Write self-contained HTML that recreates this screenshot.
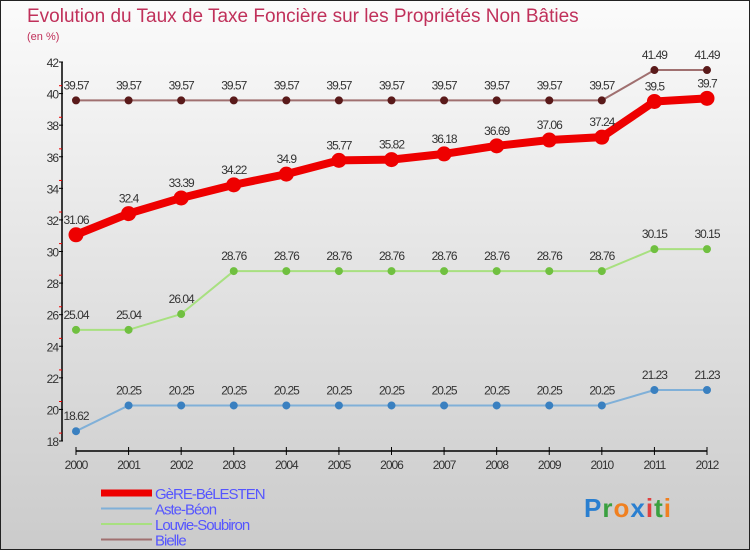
<!DOCTYPE html>
<html><head><meta charset="utf-8"><style>
body{margin:0}
#c{width:750px;height:550px;position:relative;box-sizing:border-box;border:1px solid #222;background:linear-gradient(#fbfbfb,#cbcbcb);font-family:"Liberation Sans",sans-serif;overflow:hidden}
svg{position:absolute;left:0;top:0}
</style></head><body>
<div id="c">
<svg id="s" width="750" height="550">
<text x="26" y="21" font-size="19" fill="#c0305a">Evolution du Taux de Taxe Foncière sur les Propriétés Non Bâties</text>
<text x="26" y="39" font-size="11" fill="#c0305a">(en %)</text>
</svg>
</div>
<script>
const years=[2000,2001,2002,2003,2004,2005,2006,2007,2008,2009,2010,2011,2012];
const yTicks=[18,20,22,24,26,28,30,32,34,36,38,40,42];
const gere=[31.06,32.4,33.39,34.22,34.9,35.77,35.82,36.18,36.69,37.06,37.24,39.5,39.7];
const aste=[18.62,20.25,20.25,20.25,20.25,20.25,20.25,20.25,20.25,20.25,20.25,21.23,21.23];
const louvie=[25.04,25.04,26.04,28.76,28.76,28.76,28.76,28.76,28.76,28.76,28.76,30.15,30.15];
const bielle=[39.57,39.57,39.57,39.57,39.57,39.57,39.57,39.57,39.57,39.57,39.57,41.49,41.49];
const gereLabels=["31.06","32.4","33.39","34.22","34.9","35.77","35.82","36.18","36.69","37.06","37.24","39.5","39.7"];
const asteLabels=["18.62","20.25","20.25","20.25","20.25","20.25","20.25","20.25","20.25","20.25","20.25","21.23","21.23"];
const louvieLabels=["25.04","25.04","26.04","28.76","28.76","28.76","28.76","28.76","28.76","28.76","28.76","30.15","30.15"];
const bielleLabels=["39.57","39.57","39.57","39.57","39.57","39.57","39.57","39.57","39.57","39.57","39.57","41.49","41.49"];
const s=document.getElementById('s');const NS='http://www.w3.org/2000/svg';
function X(i){return 75+i*(706-75)/(years.length-1);}
function Y(v){return 440-(v-18)*(440-61)/24;}
function el(t,a,txt){const e=document.createElementNS(NS,t);for(const k in a)e.setAttribute(k,a[k]);if(txt!==undefined)e.textContent=txt;s.appendChild(e);return e;}
let e;
e=el('line',{x1:61,y1:61,x2:61,y2:440,stroke:'#000','stroke-width':1.5});


e=el('line',{x1:75,y1:450,x2:706,y2:450,stroke:'#000','stroke-width':1.5});


yTicks.forEach(v=>{const y=Y(v);
el('line',{x1:58,y1:y,x2:62,y2:y,stroke:'#000'});
if(v<42){el('line',{x1:58,y1:y-7.9,x2:61,y2:y-7.9,stroke:'#e00'});}
e=el('text',{x:57,y:y+5,'font-size':12,fill:'#333','text-anchor':'end','letter-spacing':'-1'},v);

});
years.forEach((yr,i)=>{const x=X(i);
el('line',{x1:x,y1:446,x2:x,y2:454,stroke:'#000'});
e=el('text',{x:x,y:468,'font-size':12,fill:'#333','text-anchor':'middle','letter-spacing':'-1'},yr);

});
function series(vals,labs,color,dot,w,r,name){
const pts=vals.map((v,i)=>X(i)+','+Y(v)).join(' ');
e=el('polyline',{points:pts,fill:'none',stroke:color,'stroke-width':w,'stroke-linejoin':'round'});


vals.forEach((v,i)=>{e=el('circle',{cx:X(i),cy:Y(v),r:r,fill:dot,stroke:dot});


e=el('text',{x:X(i),y:Y(v)-11,'font-size':12,fill:'#333','text-anchor':'middle','letter-spacing':'-1'},labs[i]);

});}
series(bielle,bielleLabels,'#a07070','#5a1a1a',2,3.5,'bielle');
series(louvie,louvieLabels,'#a8e080','#70c040',2,3.5,'louvie-soubiron');
series(aste,asteLabels,'#80b0d8','#3a80c0',2,3.5,'aste-beon');
series(gere,gereLabels,'#ee0000','#ee0000',8,7,'gere-belesten');
const leg=[['GèRE-BéLESTEN','#ee0000',7],['Aste-Béon','#80b0d8',2],['Louvie-Soubiron','#a8e080',2],['Bielle','#a07070',2]];
leg.forEach((l,i)=>{const y=492+i*15.5;
e=el('line',{x1:100,y1:y,x2:151,y2:y,stroke:l[1],'stroke-width':l[2]});


e=el('text',{x:154,y:y+6,'font-size':15,fill:'#5555ff','letter-spacing':'-1'},l[0]);

});
e=el('text',{x:583,y:516,'font-size':26,'font-weight':'bold','letter-spacing':'1'});


[['P','#2a7fd0'],['r','#3aa040'],['o','#f08020'],['x','#2a7fd0'],['i','#e04040'],['t','#3aa040'],['i','#f08020']].forEach(p=>{const t=document.createElementNS(NS,'tspan');t.setAttribute('fill',p[1]);t.textContent=p[0];e.appendChild(t);});
</script>
</body></html>
